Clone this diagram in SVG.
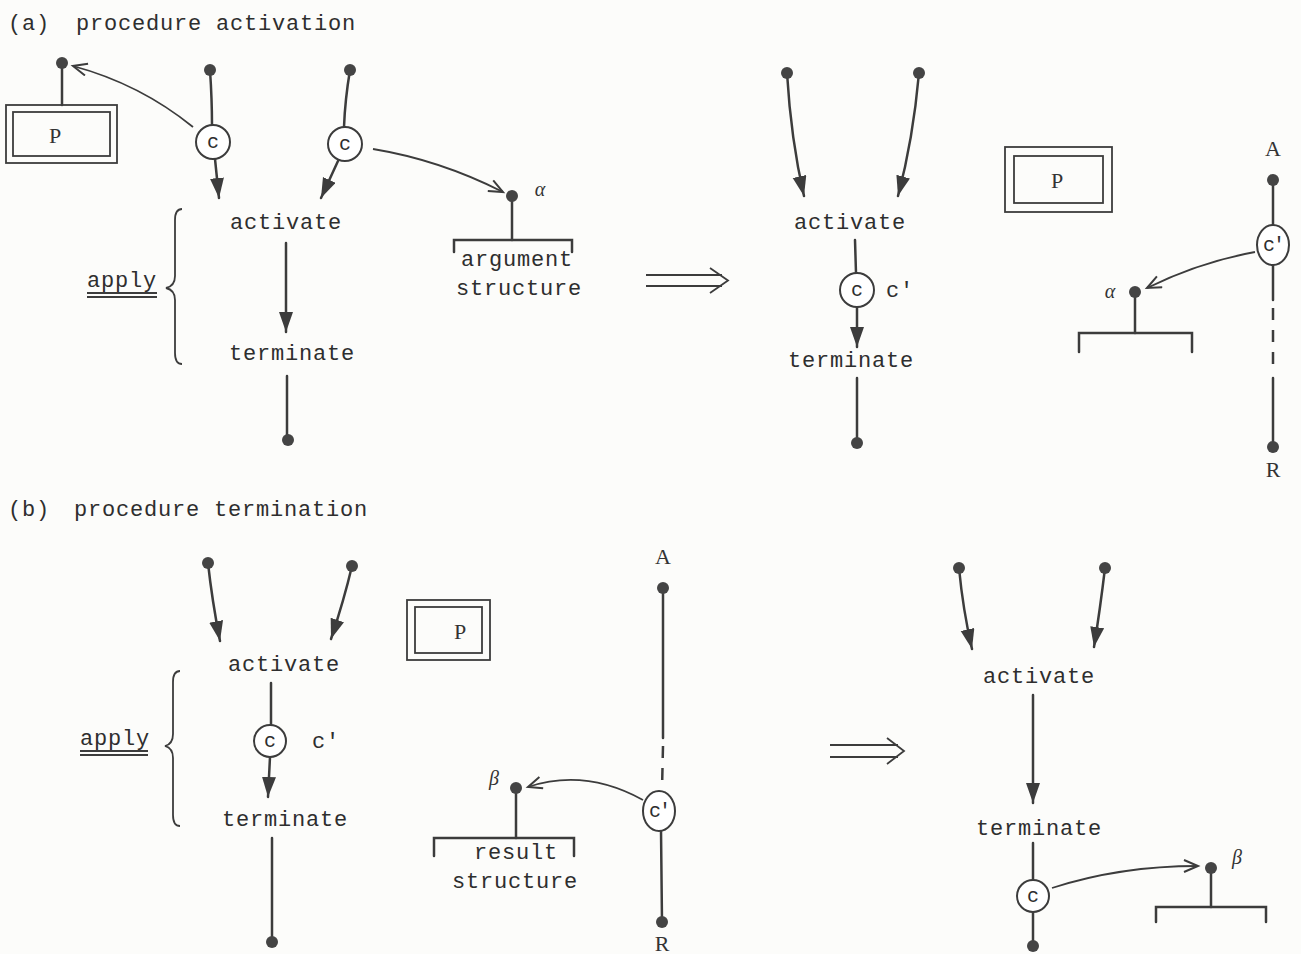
<svg xmlns="http://www.w3.org/2000/svg" width="1301" height="954" viewBox="0 0 1301 954">
<style>
.bg{fill:#fcfcfa}
.ln{stroke:#3c3c3c;stroke-width:2.5;fill:none;stroke-linecap:round}
.thin{stroke:#3c3c3c;stroke-width:1.8;fill:none}
.dash{stroke:#3c3c3c;stroke-width:2.5;fill:none;stroke-dasharray:12,10}
.dot{fill:#444}
.cir{fill:#fff;stroke:#3c3c3c;stroke-width:2}
.tt{font-family:"Liberation Mono","DejaVu Sans Mono",monospace;font-size:22px;letter-spacing:0.8px;fill:#2e2e2e}
.tc{font-family:"Liberation Mono","DejaVu Sans Mono",monospace;font-size:20px;fill:#2e2e2e;text-anchor:middle}
.tm{text-anchor:middle}
.sf{font-family:"Liberation Serif","DejaVu Serif",serif;font-size:22px;fill:#333;text-anchor:middle}
.gk{font-family:"Liberation Serif","DejaVu Serif",serif;font-style:italic;font-size:20px;fill:#333;text-anchor:middle}
</style>
<defs>
<marker id="fa" markerUnits="userSpaceOnUse" markerWidth="22" markerHeight="16" refX="20" refY="7" orient="auto">
<path d="M0,0 L20,7 L0,14 z" fill="#3c3c3c"/>
</marker>
<marker id="oa" markerUnits="userSpaceOnUse" markerWidth="18" markerHeight="16" refX="15" refY="7" orient="auto">
<path d="M1,1 L15,7 L1,13" fill="none" stroke="#3c3c3c" stroke-width="2"/>
</marker>
</defs>
<rect class="bg" x="0" y="0" width="1301" height="954"/>

<g id="titles">
<text class="tt" x="8" y="30">(a)</text>
<text class="tt" x="76" y="30">procedure activation</text>
<text class="tt" x="8" y="516">(b)</text>
<text class="tt" x="74" y="516">procedure termination</text>
</g>

<g id="connectors">
<line class="ln" x1="62" y1="63" x2="62" y2="105"/>
<path class="thin" d="M193,127 Q140,84 73,66" marker-end="url(#oa)"/>
<path class="ln" d="M210,70 Q212,100 212,125"/>
<path class="ln" d="M215,159 L219,198" marker-end="url(#fa)"/>
<path class="ln" d="M350,70 Q345,100 344,127"/>
<path class="ln" d="M338,161 L321,198" marker-end="url(#fa)"/>
<path class="thin" d="M373,149 Q440,160 503,192" marker-end="url(#oa)"/>
<line class="ln" x1="512" y1="196" x2="512" y2="240"/>
<path class="ln" d="M454,252 L454,240 L572,240 L572,252"/>
<path class="ln" d="M286,243 L286,332" marker-end="url(#fa)"/>
<line class="ln" x1="287" y1="376" x2="287" y2="440"/>
<path class="thin" d="M182,209 Q175,209 175,220 L175,276 Q175,286 166,288 Q175,290 175,300 L175,353 Q175,364 182,364"/>
<line class="thin" x1="87" y1="293" x2="157" y2="293"/>
<line class="thin" x1="87" y1="297" x2="157" y2="297"/>
<path class="thin" d="M646,275 L722,275 M646,286 L722,286 M710,268 L728,280.5 L710,293"/>
<path class="ln" d="M787,73 Q791,140 804,196" marker-end="url(#fa)"/>
<path class="ln" d="M919,73 Q913,140 898,196" marker-end="url(#fa)"/>
<line class="ln" x1="855" y1="240" x2="856" y2="273"/>
<path class="ln" d="M857,307 L857,347" marker-end="url(#fa)"/>
<line class="ln" x1="857" y1="378" x2="857" y2="443"/>
<line class="ln" x1="1273" y1="180" x2="1273" y2="226"/>
<line class="ln" x1="1273" y1="264" x2="1273" y2="300"/>
<line class="dash" x1="1273" y1="308" x2="1273" y2="372"/>
<line class="ln" x1="1273" y1="378" x2="1273" y2="447"/>
<path class="thin" d="M1255,252 Q1200,262 1147,288" marker-end="url(#oa)"/>
<line class="ln" x1="1135" y1="292" x2="1135" y2="333"/>
<path class="ln" d="M1079,352 L1079,333 L1192,333 L1192,352"/>
<path class="ln" d="M208,563 Q212,600 220,641" marker-end="url(#fa)"/>
<path class="ln" d="M352,566 Q344,600 331,639" marker-end="url(#fa)"/>
<line class="ln" x1="271" y1="683" x2="271" y2="725"/>
<path class="ln" d="M270,757 L268,797" marker-end="url(#fa)"/>
<line class="ln" x1="272" y1="838" x2="272" y2="942"/>
<path class="thin" d="M180,671 Q173,671 173,682 L173,734 Q173,744 165,746 Q173,748 173,758 L173,815 Q173,826 180,826"/>
<line class="thin" x1="80" y1="751" x2="148" y2="751"/>
<line class="thin" x1="80" y1="755" x2="148" y2="755"/>
<line class="ln" x1="663" y1="588" x2="663" y2="738"/>
<line class="dash" x1="663" y1="746" x2="662" y2="790"/>
<line class="ln" x1="661" y1="830" x2="662" y2="922"/>
<path class="thin" d="M643,800 Q585,768 528,787" marker-end="url(#oa)"/>
<line class="ln" x1="516" y1="788" x2="516" y2="838"/>
<path class="ln" d="M434,856 L434,838 L574,838 L574,856"/>
<path class="thin" d="M830,745 L898,745 M830,757 L898,757 M887,738 L904,751 L887,764"/>
<path class="ln" d="M959,568 Q963,610 972,649" marker-end="url(#fa)"/>
<path class="ln" d="M1105,568 Q1100,610 1094,647" marker-end="url(#fa)"/>
<path class="ln" d="M1033,695 L1033,803" marker-end="url(#fa)"/>
<line class="ln" x1="1033" y1="843" x2="1033" y2="880"/>
<line class="ln" x1="1033" y1="912" x2="1033" y2="945"/>
<path class="thin" d="M1052,888 Q1120,866 1198,866" marker-end="url(#oa)"/>
<line class="ln" x1="1211" y1="868" x2="1211" y2="907"/>
<path class="ln" d="M1156,922 L1156,907 L1266,907 L1266,922"/>
</g>

<g id="dots">
<circle class="dot" cx="62" cy="63" r="6"/>
<circle class="dot" cx="210" cy="70" r="6"/>
<circle class="dot" cx="350" cy="70" r="6"/>
<circle class="dot" cx="512" cy="196" r="6"/>
<circle class="dot" cx="288" cy="440" r="6"/>
<circle class="dot" cx="787" cy="73" r="6"/>
<circle class="dot" cx="919" cy="73" r="6"/>
<circle class="dot" cx="857" cy="443" r="6"/>
<circle class="dot" cx="1273" cy="180" r="6"/>
<circle class="dot" cx="1273" cy="447" r="6"/>
<circle class="dot" cx="1135" cy="292" r="6"/>
<circle class="dot" cx="208" cy="563" r="6"/>
<circle class="dot" cx="352" cy="566" r="6"/>
<circle class="dot" cx="272" cy="942" r="6"/>
<circle class="dot" cx="663" cy="588" r="6"/>
<circle class="dot" cx="662" cy="922" r="6"/>
<circle class="dot" cx="516" cy="788" r="6"/>
<circle class="dot" cx="959" cy="568" r="6"/>
<circle class="dot" cx="1105" cy="568" r="6"/>
<circle class="dot" cx="1033" cy="946" r="6"/>
<circle class="dot" cx="1211" cy="868" r="6"/>
</g>

<g id="a-P">
<rect class="thin" x="6" y="105" width="111" height="58"/>
<rect class="thin" x="13" y="112" width="97" height="44"/>
<text class="sf" x="55" y="143">P</text>
</g>
<g id="a-c1"><circle class="cir" cx="213" cy="142" r="17"/><text class="tc" x="213" y="148">c</text></g>
<g id="a-c2"><circle class="cir" cx="345" cy="144" r="17"/><text class="tc" x="345" y="150">c</text></g>
<g id="a-alpha"><text class="gk" x="540" y="196">α</text></g>
<g id="a-arg"><text class="tt tm" x="517" y="266">argument</text><text class="tt tm" x="519" y="295">structure</text></g>
<g id="a-activate"><text class="tt tm" x="286" y="229">activate</text></g>
<g id="a-terminate"><text class="tt tm" x="292" y="360">terminate</text></g>
<g id="a-apply"><text class="tt" x="87" y="287">apply</text></g>

<g id="a2-activate"><text class="tt tm" x="850" y="229">activate</text></g>
<g id="a2-c"><circle class="cir" cx="857" cy="290" r="17"/><text class="tc" x="857" y="296">c</text><text class="tt" x="886" y="297">c'</text></g>
<g id="a2-terminate"><text class="tt tm" x="851" y="367">terminate</text></g>
<g id="a2-P">
<rect class="thin" x="1005" y="147" width="107" height="65"/>
<rect class="thin" x="1014" y="156" width="89" height="47"/>
<text class="sf" x="1057" y="188">P</text>
</g>
<g id="a2-A"><text class="sf" x="1273" y="156">A</text></g>
<g id="a2-R"><text class="sf" x="1273" y="477">R</text></g>
<g id="a2-cp"><ellipse class="cir" cx="1273" cy="245" rx="16" ry="20"/><text class="tc" x="1273" y="251" style="letter-spacing:-2px">c'</text></g>
<g id="a2-alpha"><text class="gk" x="1110" y="298">α</text></g>

<g id="b-activate"><text class="tt tm" x="284" y="671">activate</text></g>
<g id="b-c"><circle class="cir" cx="270" cy="741" r="16"/><text class="tc" x="270" y="747">c</text><text class="tt" x="312" y="748">c'</text></g>
<g id="b-terminate"><text class="tt tm" x="285" y="826">terminate</text></g>
<g id="b-apply"><text class="tt" x="80" y="745">apply</text></g>
<g id="b-P">
<rect class="thin" x="407" y="600" width="83" height="60"/>
<rect class="thin" x="415" y="607" width="67" height="46"/>
<text class="sf" x="460" y="639">P</text>
</g>
<g id="b-A"><text class="sf" x="663" y="564">A</text></g>
<g id="b-R"><text class="sf" x="662" y="951">R</text></g>
<g id="b-cp"><ellipse class="cir" cx="659" cy="811" rx="16" ry="20"/><text class="tc" x="659" y="817" style="letter-spacing:-2px">c'</text></g>
<g id="b-beta"><text class="gk" x="494" y="785">β</text></g>
<g id="b-res"><text class="tt tm" x="516" y="859">result</text><text class="tt tm" x="515" y="888">structure</text></g>

<g id="b2-activate"><text class="tt tm" x="1039" y="683">activate</text></g>
<g id="b2-terminate"><text class="tt tm" x="1039" y="835">terminate</text></g>
<g id="b2-c"><circle class="cir" cx="1033" cy="896" r="16"/><text class="tc" x="1033" y="902">c</text></g>
<g id="b2-beta"><text class="gk" x="1237" y="864">β</text></g>
</svg>
